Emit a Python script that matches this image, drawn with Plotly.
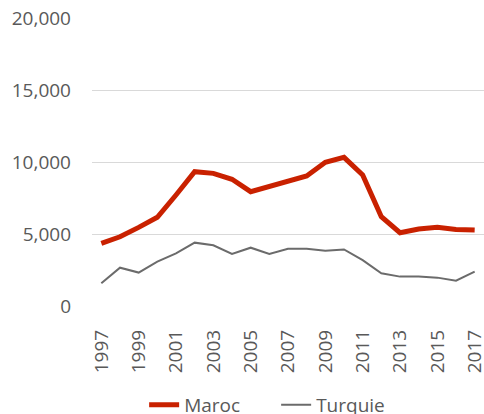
import plotly.graph_objects as go

years = list(range(1997, 2018))
maroc = [4350, 4810, 5460, 6160, 7710, 9330, 9210, 8800, 7940, 8330, 8700,
         9030, 9980, 10320, 9100, 6200, 5090, 5350, 5460, 5320, 5280]
turquie = [1580, 2660, 2320, 3080, 3660, 4400, 4220, 3610, 4050, 3610, 3980,
           3980, 3840, 3930, 3190, 2270, 2040, 2040, 1970, 1760, 2390]
tick_years = list(range(1997, 2018, 2))

FONT = "Open Sans"

fig = go.Figure()
fig.add_trace(go.Scatter(x=years, y=maroc, name="Maroc", mode="lines",
                         line=dict(color="#C92100", width=5)))
fig.add_trace(go.Scatter(x=years, y=turquie, name="Turquie", mode="lines",
                         line=dict(color="#6B6B6B", width=2)))

fig.update_layout(
    width=484, height=414,
    margin=dict(l=92, r=0, t=18, b=108, autoexpand=False),
    paper_bgcolor="white", plot_bgcolor="white",
    font=dict(family=FONT, size=19, color="#595959"),
    showlegend=True,
    legend=dict(orientation="h", x=0.133, xanchor="left",
                yref="container", y=0.022, yanchor="middle",
                font=dict(size=19, color="#595959"), bgcolor="rgba(0,0,0,0)",
                entrywidth=87),
)
fig.update_xaxes(range=[1996.5, 2017.5], tickmode="array", tickvals=tick_years,
                 ticktext=[str(y) for y in tick_years], tickangle=-90,
                 showgrid=False, showline=False, zeroline=False, ticks="",
                 automargin=False, ticklabeloverflow="allow", ticklabelstandoff=19,
                 tickfont=dict(size=19, color="#595959"))
fig.update_yaxes(range=[0, 20000], dtick=5000, tickformat=",",
                 showgrid=True, gridcolor="#D9D9D9", gridwidth=1.3,
                 zeroline=False, showline=False, ticks="",
                 automargin=False, ticklabelstandoff=20,
                 tickfont=dict(size=19, color="#595959"))

# page body has a default 8px margin; drop it so the chart sits at the corner
fig.write_html("out.html", config={"displayModeBar": False},
               post_script="document.body.style.margin='0';")
